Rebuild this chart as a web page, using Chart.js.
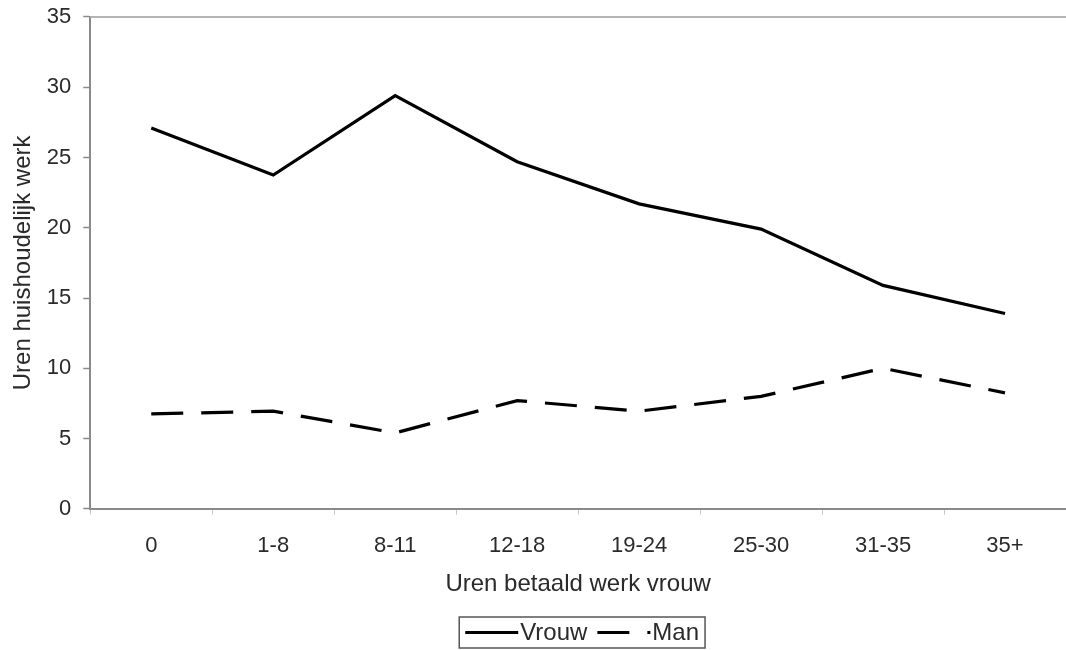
<!DOCTYPE html>
<html><head><meta charset="utf-8">
<script src="https://cdn.jsdelivr.net/npm/chart.js@4/dist/chart.umd.min.js"></script>
<style>html,body{margin:0;padding:0;background:#fff;} #wrap{width:1066px;height:650px;position:relative;}</style>
</head><body><div id="wrap"><canvas id="c"></canvas></div>
<script>
const categories = ['0', '1-8', '8-11', '12-18', '19-24', '25-30', '31-35', '35+'];
const vrouw = [27.1, 23.75, 29.4, 24.7, 21.7, 19.9, 15.9, 13.9];
const man = [6.75, 6.95, 5.4, 7.7, 6.95, 8.0, 10.0, 8.25];
const seriesNames = ['Vrouw', 'Man'];
const yMin = 0, yMax = 35, yStep = 5;
const xTitle = 'Uren betaald werk vrouw';
const yTitle = 'Uren huishoudelijk werk';

const FONT = '"Liberation Sans", Arial, sans-serif';
const TEXT = '#2a2a2a';
const AXIS = '#8a8a8a';

const frameLegend = {
  id: 'frameLegend',
  afterDraw(chart) {
    const ctx = chart.ctx, ca = chart.chartArea;
    ctx.save();
    // top frame line
    ctx.strokeStyle = '#b4b4b4';
    ctx.lineWidth = 2;
    ctx.beginPath();
    ctx.moveTo(ca.left, ca.top);
    ctx.lineTo(chart.width, ca.top);
    ctx.stroke();

    // boxed legend
    ctx.font = '24px ' + FONT;
    const lineLen = 53, gapText = 2, gapItem = 10, pad = 6;
    const items = chart.data.datasets.map(ds => ({
      label: ds.label, w: ctx.measureText(ds.label).width,
      dash: ds.borderDash || [], color: ds.borderColor, lw: ds.borderWidth
    }));
    const total = pad * 2 + items.reduce((s, it) => s + lineLen + gapText + it.w, 0) + gapItem * (items.length - 1);
    const cx = (ca.left + ca.right) / 2 + 4;
    const boxTop = chart.height - 33, boxH = 31;
    const bx = cx - total / 2;
    ctx.strokeStyle = '#555';
    ctx.lineWidth = 1.5;
    ctx.strokeRect(bx, boxTop, total, boxH);
    let x = bx + pad;
    const cy = boxTop + boxH / 2;
    items.forEach((it, i) => {
      ctx.strokeStyle = it.color;
      ctx.lineWidth = it.lw;
      ctx.setLineDash(it.dash);
      ctx.beginPath();
      ctx.moveTo(x, cy);
      ctx.lineTo(x + lineLen, cy);
      ctx.stroke();
      ctx.setLineDash([]);
      x += lineLen + gapText;
      ctx.fillStyle = TEXT;
      ctx.textBaseline = 'middle';
      ctx.textAlign = 'left';
      ctx.fillText(it.label, x, cy + 1);
      x += it.w + gapItem;
    });
    ctx.restore();
  }
};

new Chart(document.getElementById('c'), {
  type: 'line',
  data: {
    labels: categories,
    datasets: [
      { label: seriesNames[0], data: vrouw, borderColor: '#000', borderWidth: 3.2, pointRadius: 0, tension: 0, fill: false },
      { label: seriesNames[1], data: man, borderColor: '#000', borderWidth: 3.2, borderDash: [32, 18], pointRadius: 0, tension: 0, fill: false }
    ]
  },
  options: {
    responsive: true,
    maintainAspectRatio: false,
    animation: false,
    layout: { padding: { top: 10, right: 0, bottom: 53, left: 8 } },
    plugins: { legend: { display: false }, tooltip: { enabled: false } },
    scales: {
      x: {
        offset: true,
        grid: { display: true, drawOnChartArea: false, offset: true, tickLength: 6, color: '#c8c8c8', tickWidth: 1 },
        border: { display: true, color: AXIS, width: 2 },
        ticks: { color: TEXT, font: { family: FONT, size: 22 }, padding: 18, maxRotation: 0 },
        title: { display: true, text: xTitle, color: TEXT, font: { family: FONT, size: 24 }, padding: { top: -7, bottom: -2 } }
      },
      y: {
        min: yMin, max: yMax,
        grid: { display: true, drawOnChartArea: false, tickLength: 7, color: AXIS, tickWidth: 1.5 },
        border: { display: true, color: AXIS, width: 2 },
        ticks: { stepSize: yStep, color: TEXT, font: { family: FONT, size: 22, lineHeight: 0.45 }, padding: 12 },
        title: { display: true, text: yTitle, color: TEXT, font: { family: FONT, size: 24 }, padding: { top: 1, bottom: -3 } }
      }
    }
  },
  plugins: [frameLegend]
});
</script>
</body></html>
